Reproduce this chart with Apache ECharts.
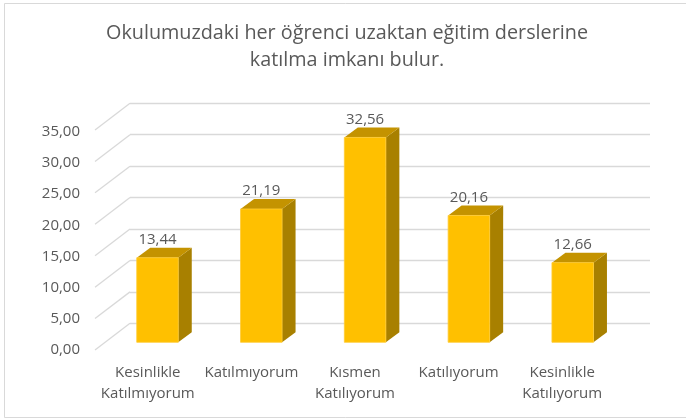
<!DOCTYPE html>
<html>
<head>
<meta charset="utf-8">
<script src="https://cdn.jsdelivr.net/npm/echarts@6/dist/echarts.min.js"></script>
<style>
  html, body { margin: 0; padding: 0; background: #ffffff; }
  #chart { width: 686px; height: 419px; }
</style>
</head>
<body>
<div id="chart"></div>
<script>
// Survey answers and their percentages
const categories = ['Kesinlikle\nKatılmıyorum', 'Katılmıyorum', 'Kısmen\nKatılıyorum', 'Katılıyorum', 'Kesinlikle\nKatılıyorum'];
const values = [13.44, 21.19, 32.56, 20.16, 12.66];
const yTicks = [0, 5, 10, 15, 20, 25, 30, 35];
const titleText = 'Okulumuzdaki her öğrenci uzaktan eğitim derslerine\nkatılma imkanı bulur.';

const FONT = '"Open Sans", "Noto Sans", sans-serif';
const TEXT_COLOR = '#595959';
const GRID_COLOR = '#d9d9d9';

// perspective offsets (pixels)
const WALL_DX = 35, WALL_DY = 26.7;   // floor front edge -> back wall
const BAR_DX = 13.5, BAR_DY = 10;     // bar depth

const fmt = v => v.toFixed(2).replace('.', ',');

const chart = echarts.init(document.getElementById('chart'), null, { renderer: 'canvas' });

chart.setOption({
  animation: false,
  backgroundColor: '#ffffff',
  title: {
    text: titleText,
    left: 347,
    textAlign: 'center',
    top: 19.5,
    padding: 0,
    textStyle: {
      fontFamily: FONT,
      fontSize: 19.8,
      fontWeight: 'normal',
      color: TEXT_COLOR,
      lineHeight: 27
    }
  },
  graphic: [{
    type: 'rect',
    shape: { x: 4.5, y: 3.5, width: 700, height: 414 },
    style: { fill: 'none', stroke: GRID_COLOR, lineWidth: 1 },
    silent: true
  }],
  grid: [
    // back wall (horizontal gridlines)
    { left: 130, top: 103.3, width: 520, height: 220 },
    // front edge (axis labels)
    { left: 96, top: 131.7, width: 518, height: 218.3 },
    // bar plane
    { left: 105.6, top: 122.1, width: 519, height: 220.2 }
  ],
  xAxis: [
    { gridIndex: 0, type: 'value', min: 0, max: 1, show: false },
    {
      gridIndex: 1, type: 'category', data: categories,
      axisLine: { show: false }, axisTick: { show: false },
      axisLabel: {
        interval: 0, margin: 12.5, color: TEXT_COLOR,
        fontFamily: FONT, fontSize: 15, lineHeight: 21
      }
    },
    { gridIndex: 2, type: 'category', data: categories, show: false }
  ],
  yAxis: [
    {
      gridIndex: 0, type: 'value', min: 0, max: 35, interval: 5,
      axisLine: { show: false }, axisTick: { show: false }, axisLabel: { show: false },
      splitLine: { show: true, lineStyle: { color: GRID_COLOR, width: 1.3 } }
    },
    {
      gridIndex: 1, type: 'value', min: 0, max: 35, interval: 5,
      axisLine: { show: false }, axisTick: { show: false }, splitLine: { show: false },
      axisLabel: {
        margin: 16, color: TEXT_COLOR, fontFamily: FONT, fontSize: 15,
        formatter: v => fmt(v)
      }
    },
    { gridIndex: 2, type: 'value', min: 0, max: 35, show: false }
  ],
  series: [
    {
      // diagonal floor-to-wall segments of each gridline
      type: 'custom',
      xAxisIndex: 0, yAxisIndex: 0,
      silent: true,
      data: yTicks.map(v => [0, v]),
      renderItem: (params, api) => {
        const p = api.coord([0, api.value(1)]);
        return {
          type: 'line',
          shape: { x1: p[0] - WALL_DX, y1: p[1] + WALL_DY, x2: p[0], y2: p[1] },
          style: { stroke: GRID_COLOR, lineWidth: 1.3 }
        };
      }
    },
    {
      // 3D bars with value labels
      type: 'custom',
      xAxisIndex: 2, yAxisIndex: 2,
      silent: true,
      data: values.map((v, i) => [i, v]),
      renderItem: (params, api) => {
        const idx = api.value(0);
        const val = api.value(1);
        const top = api.coord([idx, val]);
        const base = api.coord([idx, 0]);
        const bw = api.size([1, 0])[0] * 0.4;
        const x0 = top[0] - bw / 2, x1 = top[0] + bw / 2;
        const yt = top[1], yb = base[1];
        return {
          type: 'group',
          children: [
            {
              type: 'polygon',
              shape: { points: [[x1, yt], [x1 + BAR_DX, yt - BAR_DY], [x1 + BAR_DX, yb - BAR_DY], [x1, yb]] },
              style: { fill: '#a88000' }
            },
            {
              type: 'polygon',
              shape: { points: [[x0, yt], [x1, yt], [x1 + BAR_DX, yt - BAR_DY], [x0 + BAR_DX, yt - BAR_DY]] },
              style: { fill: '#c49300' }
            },
            {
              type: 'rect',
              shape: { x: x0, y: yt, width: bw, height: yb - yt },
              style: { fill: '#ffc000', stroke: '#ffcc33', lineWidth: 0.8 }
            },
            {
              type: 'text',
              style: {
                text: fmt(val),
                x: top[0], y: yt - BAR_DY - 8,
                align: 'center', verticalAlign: 'middle',
                fontFamily: FONT, fontSize: 15, fill: TEXT_COLOR
              }
            }
          ]
        };
      }
    }
  ]
});
</script>
</body>
</html>
